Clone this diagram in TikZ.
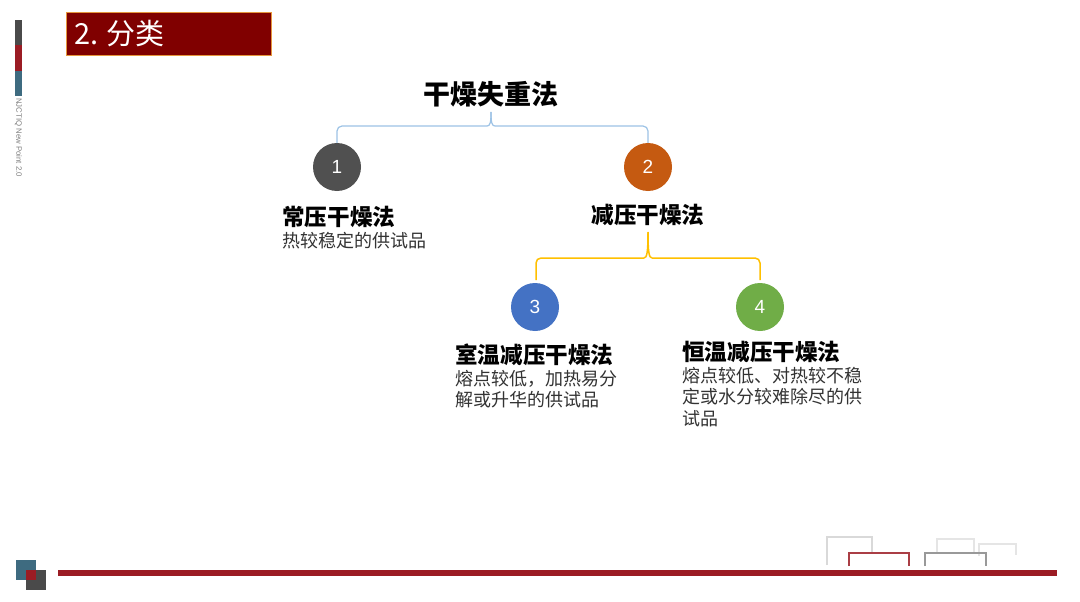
\documentclass[tikz,border=0pt]{standalone}
\usepackage{fontspec}
\setmainfont{Liberation Sans}
\newfontfamily\cjk{Noto Sans CJK SC}
\begin{document}
\begin{tikzpicture}[x=1pt,y=-1pt,
  numc/.style={circle,minimum size=48pt,inner sep=0pt,text=white,font=\fontsize{19}{19}\selectfont},
  head/.style={inner sep=0pt,font=\cjk\bfseries\fontsize{22.6}{22.6}\selectfont,text=black},
  desc/.style={inner sep=0pt,align=left,text=black!80,font=\cjk\fontsize{18}{21.5}\selectfont},
  bluebr/.style={draw={rgb,255:red,157;green,195;blue,230},line width=1.2pt},
  yelbr/.style={draw={rgb,255:red,255;green,192;blue,0},line width=1.5pt}]
\definecolor{dred}{RGB}{128,0,0}
\definecolor{bred}{RGB}{155,28,36}
\definecolor{dgray}{RGB}{74,74,74}
\definecolor{teal2}{RGB}{62,107,128}
\useasboundingbox (0,0) rectangle (1080,602);
\fill[white] (0,0) rectangle (1080,602);
% title box
\node[draw={rgb,255:red,230;green,150;blue,60},fill=dred,minimum width=205pt,minimum height=43pt,inner sep=0pt] (tbox) at (168.5,33.5) {};
\node[anchor=west,text=white,inner sep=0pt,font=\cjk\fontsize{29}{29}\selectfont] (ttext) at (74,34) {2. 分类};
% left side bar
\fill[dgray] (15,20) rectangle (22,45);
\fill[bred] (15,45) rectangle (22,71);
\fill[teal2] (15,71) rectangle (22,96);
\node[rotate=-90,anchor=west,text=black!50,inner sep=0pt,font=\fontsize{7.8}{7.8}\selectfont] (brand) at (18.5,98) {NJCTIQ New Point 2.0};
% bottom line and squares
\fill[bred] (58,570) rectangle (1057,576);
\fill[teal2] (16,560) rectangle (36,580);
\fill[dgray] (26,570) rectangle (46,590);
\fill[bred] (26,570) rectangle (36,580);
% bottom right brackets
\draw[black!15,line width=1.2pt] (827,565) -- (827,537) -- (872,537) -- (872,552);
\draw[black!10,line width=1.2pt] (937,552) -- (937,539) -- (974,539) -- (974,552);
\draw[black!10,line width=1.2pt] (979,556) -- (979,544) -- (1016,544) -- (1016,555);
\draw[bred!85,line width=1.8pt] (849,566) -- (849,553) -- (909,553) -- (909,566);
\draw[black!40,line width=1.8pt] (925,566) -- (925,553) -- (986,553) -- (986,566);
% tree
\node[inner sep=0pt,font=\cjk\bfseries\fontsize{27}{27}\selectfont] (root) at (491,94) {干燥失重法};
\node[numc,fill={rgb,255:red,80;green,80;blue,80}] (c1) at (337,167) {1};
\node[numc,fill={rgb,255:red,197;green,90;blue,17}] (c2) at (648,167) {2};
\node[numc,fill={rgb,255:red,68;green,114;blue,196}] (c3) at (535,307) {3};
\node[numc,fill={rgb,255:red,112;green,173;blue,71}] (c4) at (760,307) {4};
% blue brace
\coordinate (bt) at (491,112);
\draw[bluebr,rounded corners=5pt] (c1.north) -- (337,126) -- (487,126);
\draw[bluebr] (487,126) .. controls (490,126) and (491,123) .. (bt);
\draw[bluebr,rounded corners=5pt] (c2.north) -- (648,126) -- (495,126);
\draw[bluebr] (495,126) .. controls (492,126) and (491,123) .. (bt);
% headings
\node[head,anchor=west] (h1) at (282,217) {常压干燥法};
\node[desc,anchor=north west] (d1) at (282,232) {热较稳定的供试品};
\node[head] (h2) at (648,215) {减压干燥法};
\node[head,anchor=west] (h3) at (455,355) {室温减压干燥法};
\node[desc,anchor=north west] (d3) at (455,370) {熔点较低，加热易分\\解或升华的供试品};
\node[head,anchor=west] (h4) at (682,352) {恒温减压干燥法};
\node[desc,anchor=north west] (d4) at (682,367) {熔点较低、对热较不稳\\定或水分较难除尽的供\\试品};
% yellow brace
\coordinate (yt) at (648,232);
\draw[yelbr] (yt) .. controls (648,252) and (647,258) .. (644,258);
\draw[yelbr] (yt) .. controls (648,252) and (649,258) .. (652,258);
\draw[yelbr,rounded corners=5pt] (644,258) -- (536,258) -- (536,280);
\draw[yelbr,rounded corners=5pt] (652,258) -- (760,258) -- (760,280);
\end{tikzpicture}
\end{document}
